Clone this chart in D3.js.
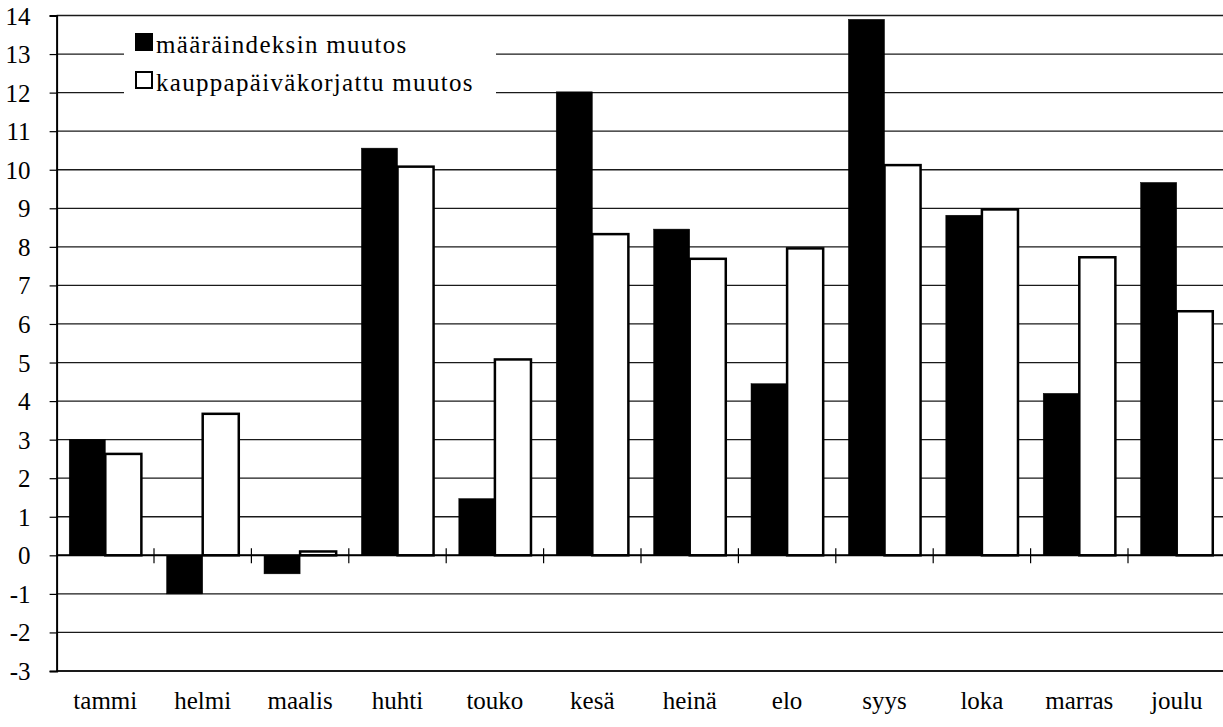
<!DOCTYPE html>
<html><head><meta charset="utf-8">
<script src="https://cdn.jsdelivr.net/npm/d3@7"></script>
</head><body style="margin:0">
<svg id="c" width="1223" height="727" font-family="Times New Roman, Liberation Serif, serif"></svg>
<script>
const months = ["tammi","helmi","maalis","huhti","touko","kesä","heinä","elo","syys","loka","marras","joulu"];
const seriesNames = ["määräindeksin muutos","kauppapäiväkorjattu muutos"];
const volumeChange = [3.0,-1.0,-0.48,10.56,1.47,12.02,8.46,4.45,13.9,8.82,4.2,9.67];
const adjustedChange = [2.63,3.67,0.1,10.08,5.08,8.33,7.69,7.96,10.12,8.97,7.73,6.33];
const yTicks = d3.range(-3,15,1);

const FONT = "Times New Roman, Liberation Serif, serif";
const svg = d3.select("#c");
const pL = 56.6, pR = 1225.4, pT = 15.5, pB = 671;
const x = d3.scaleBand().domain(months).range([pL,pR]).padding(0);
const xs = d3.scaleBand().domain([0,1]).range([0,x.bandwidth()]).paddingInner(0).paddingOuter(0.35);
const y = d3.scaleLinear().domain([-3,14]).range([pB,pT]);
function serif(sel){ return sel.attr("font-family",FONT).style("font-family",FONT).attr("font-size",25).style("font-size","25px"); }

// gridlines
svg.append("g").selectAll("line").data(yTicks).join("line")
  .attr("x1",pL).attr("x2",1223).attr("y1",d=>y(d)).attr("y2",d=>y(d))
  .attr("stroke","#1a1a1a").attr("stroke-width",d=>d===-3?2:1.3);

// y axis
const ya = d3.axisLeft(y).tickValues(yTicks).tickSize(7).tickPadding(20).tickFormat(d=>String(d));
const yg = svg.append("g").attr("transform",`translate(${pL},0)`).call(ya);
yg.attr("font-family",FONT);
yg.select(".domain").attr("stroke","#000").attr("stroke-width",2);
yg.selectAll(".tick line").attr("stroke","#000").attr("stroke-width",1.2);
serif(yg.selectAll("text")).attr("fill","#000").attr("x",-26).attr("dy","0.34em");

// bars
const data = months.map((m,i)=>({m, v:[volumeChange[i],adjustedChange[i]]}));
const g = svg.append("g");
data.forEach(d=>{
  [1,0].forEach(s=>{
    const v = d.v[s];
    g.append("rect")
      .attr("x", x(d.m)+xs(s))
      .attr("y", y(Math.max(0,v)))
      .attr("width", xs.bandwidth())
      .attr("height", Math.abs(y(v)-y(0)))
      .attr("fill", s===0?"#000":"#fff")
      .attr("stroke","#000").attr("stroke-width", s===0?0.5:2.5);
  });
});

// zero line with category ticks
svg.append("line").attr("x1",pL).attr("x2",1223).attr("y1",y(0)).attr("y2",y(0))
  .attr("stroke","#000").attr("stroke-width",2);
svg.append("g").selectAll("line").data(months.slice(1)).join("line")
  .attr("x1",d=>x(d)).attr("x2",d=>x(d)).attr("y1",y(0)-7).attr("y2",y(0)+8)
  .attr("stroke","#000").attr("stroke-width",1.2);

// category labels
serif(svg.append("g").selectAll("text").data(months).join("text"))
  .attr("x",d=>x(d)+x.bandwidth()/2).attr("y",709)
  .attr("text-anchor","middle").attr("fill","#000").text(d=>d);

// legend
const lg = svg.append("g");
lg.append("rect").attr("x",124).attr("y",25).attr("width",372).attr("height",85).attr("fill","#fff");
const boxY = [34, 72], baseY = [53, 91];
seriesNames.forEach((n,i)=>{
  lg.append("rect").attr("x",136).attr("y",boxY[i]).attr("width",16).attr("height",16)
    .attr("fill",i===0?"#000":"#fff").attr("stroke","#000").attr("stroke-width",2);
  serif(lg.append("text"))
    .attr("x",156).attr("y",baseY[i]).attr("fill","#000")
    .attr("letter-spacing",1.3).text(n);
});
</script>
</body></html>
